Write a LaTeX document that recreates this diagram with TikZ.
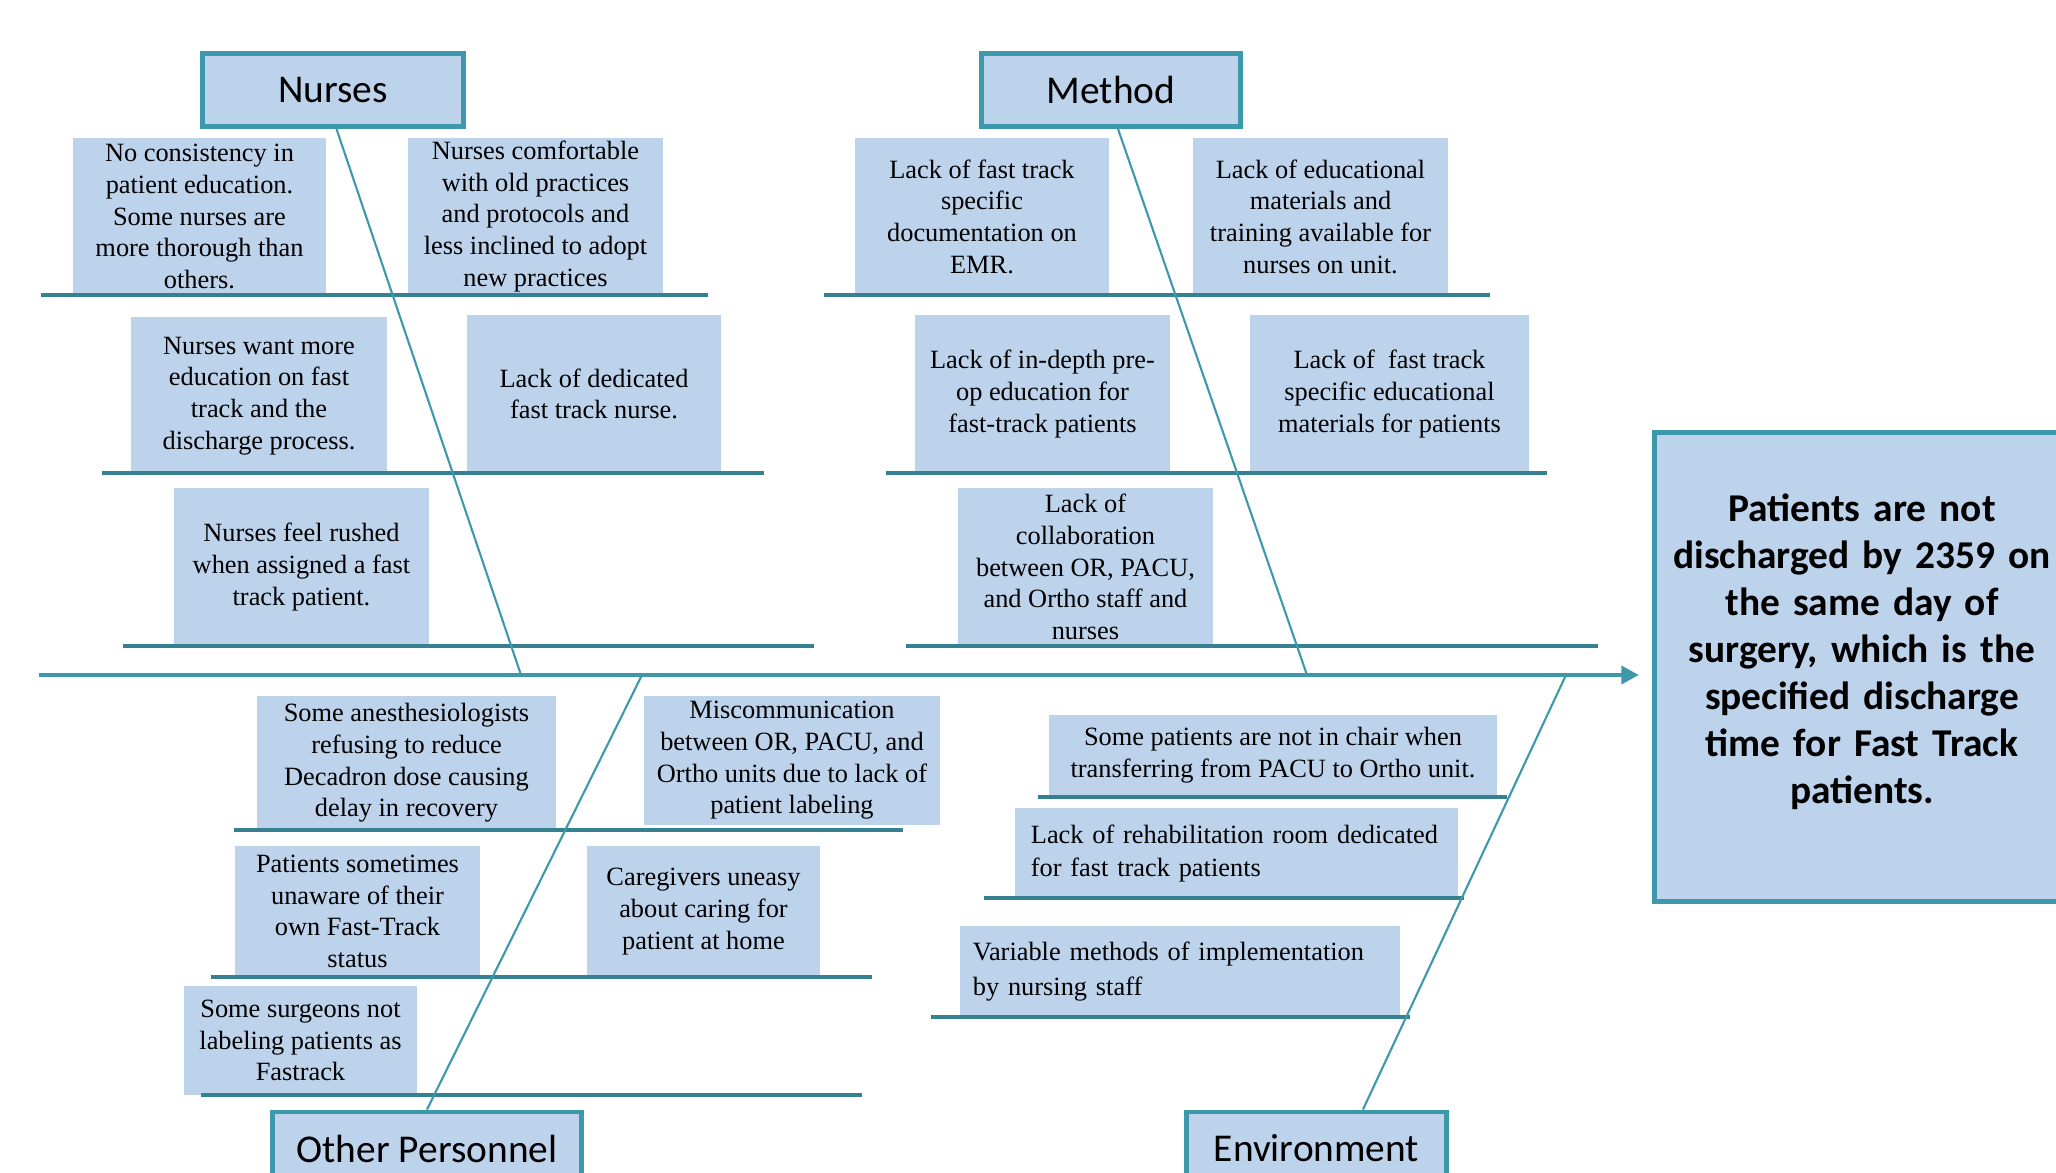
\documentclass[tikz,border=0pt]{standalone}
\usepackage{fontspec}
\setmainfont{Liberation Serif}
\newfontfamily\calibri{Carlito}
\usepackage{tikz}
\usepackage{xcolor}
\usetikzlibrary{arrows.meta, calc}

\definecolor{boxblue}{RGB}{189,210,235}
\definecolor{fishteal}{RGB}{62,152,172}

\begin{document}
\begin{tikzpicture}[
    x=0.01cm, y=-0.01cm,
    cause/.style={rectangle, fill=boxblue, inner xsep=2pt, inner ysep=0pt, align=center, font=\fontsize{7.5}{9}\selectfont},
    causeleft/.style={cause, align=left, inner sep=0pt},
    category/.style={rectangle, draw=fishteal, line width=1.4pt, fill=boxblue, minimum height=0.73cm, align=center, font=\calibri\fontsize{11.2}{13}\selectfont},
    effect/.style={rectangle, draw=fishteal, line width=1.4pt, fill=boxblue, minimum width=4.15cm, minimum height=4.69cm, text width=3.9cm, align=center, font=\calibri\bfseries\fontsize{11.2}{13.4}\selectfont},
    spine/.style={draw=fishteal, line width=1.4pt, -{Triangle[length=5pt, width=5pt]}},
    bone/.style={draw=fishteal, line width=0.6pt},
    branch/.style={draw=fishteal!85!black, line width=1.1pt}
]
\useasboundingbox (0,0) rectangle (2056,1173);
\clip (0,0) rectangle (2056,1173);

% Categories and effect
\node[category, minimum width=2.60cm] (nurses) at (333,90) {Nurses};
\node[category, minimum width=2.58cm] (method) at (1111,90) {Method};
\node[category, minimum width=3.08cm] (other) at (427,1148.5) {Other Personnel};
\node[category, minimum width=2.59cm] (environment) at (1316.5,1148.5) {Environment};
\node[effect] (effect) at (1862,667) {Patients are not\\ discharged by 2359 on\\ the same day of\\ surgery, which is the\\ specified discharge\\ time for Fast Track\\ patients.\\[-3pt]\mbox{}};

% Nurses causes
\node[cause, minimum width=2.53cm, minimum height=1.57cm] (nconsist) at (199.5,216.5) {No consistency in\\ patient education.\\ Some nurses are\\ more thorough than\\ others.};
\node[cause, minimum width=2.55cm, minimum height=1.57cm] (ncomfort) at (535.5,216.5) {Nurses comfortable\\ with old practices\\ and protocols and\\ less inclined to adopt\\ new practices};
\node[cause, minimum width=2.56cm, minimum height=1.58cm] (nwant) at (259,396) {Nurses want more\\ education on fast\\ track and the\\ discharge process.};
\node[cause, minimum width=2.54cm, minimum height=1.58cm] (ndedicated) at (594,394) {Lack of dedicated\\ fast track nurse.};
\node[cause, minimum width=2.55cm, minimum height=1.58cm] (nrushed) at (301.5,567) {Nurses feel rushed\\ when assigned a fast\\ track patient.};

% Method causes
\node[cause, minimum width=2.54cm, minimum height=1.57cm] (mdocs) at (982,216.5) {Lack of fast track\\ specific\\ documentation on\\ EMR.};
\node[cause, minimum width=2.55cm, minimum height=1.57cm] (mtraining) at (1320.5,216.5) {Lack of educational\\ materials and\\ training available for\\ nurses on unit.};
\node[cause, minimum width=2.55cm, minimum height=1.58cm] (mpreop) at (1042.5,394) {Lack of in-depth pre-\\ op education for\\ fast-track patients};
\node[cause, minimum width=2.79cm, minimum height=1.58cm] (mmaterials) at (1389.5,394) {Lack of \ fast track\\ specific educational\\ materials for patients};
\node[cause, minimum width=2.55cm, minimum height=1.58cm] (mcollab) at (1085.5,567) {Lack of\\ collaboration\\ between OR, PACU,\\ and Ortho staff and\\ nurses};

% Other personnel causes
\node[cause, minimum width=2.99cm, minimum height=1.34cm] (oanesth) at (406.5,763) {Some anesthesiologists\\ refusing to reduce\\ Decadron dose causing\\ delay in recovery};
\node[cause, minimum width=2.96cm, minimum height=1.29cm] (omiscomm) at (792,760.5) {Miscommunication\\ between OR, PACU, and\\ Ortho units due to lack of\\ patient labeling};
\node[cause, minimum width=2.45cm, minimum height=1.31cm] (ounaware) at (357.5,911.5) {Patients sometimes\\ unaware of their\\ own Fast-Track\\ status};
\node[cause, minimum width=2.33cm, minimum height=1.31cm] (ocaregiver) at (703.5,911.5) {Caregivers uneasy\\ about caring for\\ patient at home};
\node[cause, minimum width=2.33cm, minimum height=1.09cm] (osurgeons) at (300.5,1040.5) {Some surgeons not\\ labeling patients as\\ Fastrack};

% Environment causes
\node[cause, minimum width=4.48cm, minimum height=0.81cm] (echair) at (1273,755.5) {Some patients are not in chair when\\ transferring from PACU to Ortho unit.};
\node[causeleft, minimum width=4.43cm, minimum height=0.91cm, text width=4.11cm] (erehab) at (1236.5,853.5) {Lack of rehabilitation room dedicated\\[0.5pt] for fast track patients};
\node[causeleft, minimum width=4.40cm, minimum height=0.91cm, text width=4.14cm] (evariable) at (1180,971.5) {Variable methods of implementation\\[1pt] by nursing staff};

% Branch lines
\draw[branch] (41,295) -- (708,295);
\draw[branch] (102,473) -- (764,473);
\draw[branch] (123,646) -- (814,646);
\draw[branch] (824,295) -- (1490,295);
\draw[branch] (886,473) -- (1547,473);
\draw[branch] (906,646) -- (1598,646);
\draw[branch] (234,830) -- (903,830);
\draw[branch] (211,977) -- (872,977);
\draw[branch] (201,1095) -- (862,1095);
\draw[branch] (1038,797) -- (1507,797);
\draw[branch] (984,898) -- (1464,898);
\draw[branch] (931,1017) -- (1410,1017);

% Spine and bones
\coordinate (tail) at (39,675);
\coordinate (head) at (1639,675);
\coordinate (nj) at (521,675);
\coordinate (mj) at (1307,675);
\coordinate (oj) at (642,675);
\coordinate (ej) at (1566,675);
\draw[spine] (tail) -- (head);
\draw[bone] ([xshift=1pt]nurses.south) -- (nj);
\draw[bone] ([xshift=2pt]method.south) -- (mj);
\draw[bone] (oj) -- (other.north);
\draw[bone] (ej) -- ($(environment.north west)!0.676!(environment.north east)$);

\end{tikzpicture}
\end{document}
